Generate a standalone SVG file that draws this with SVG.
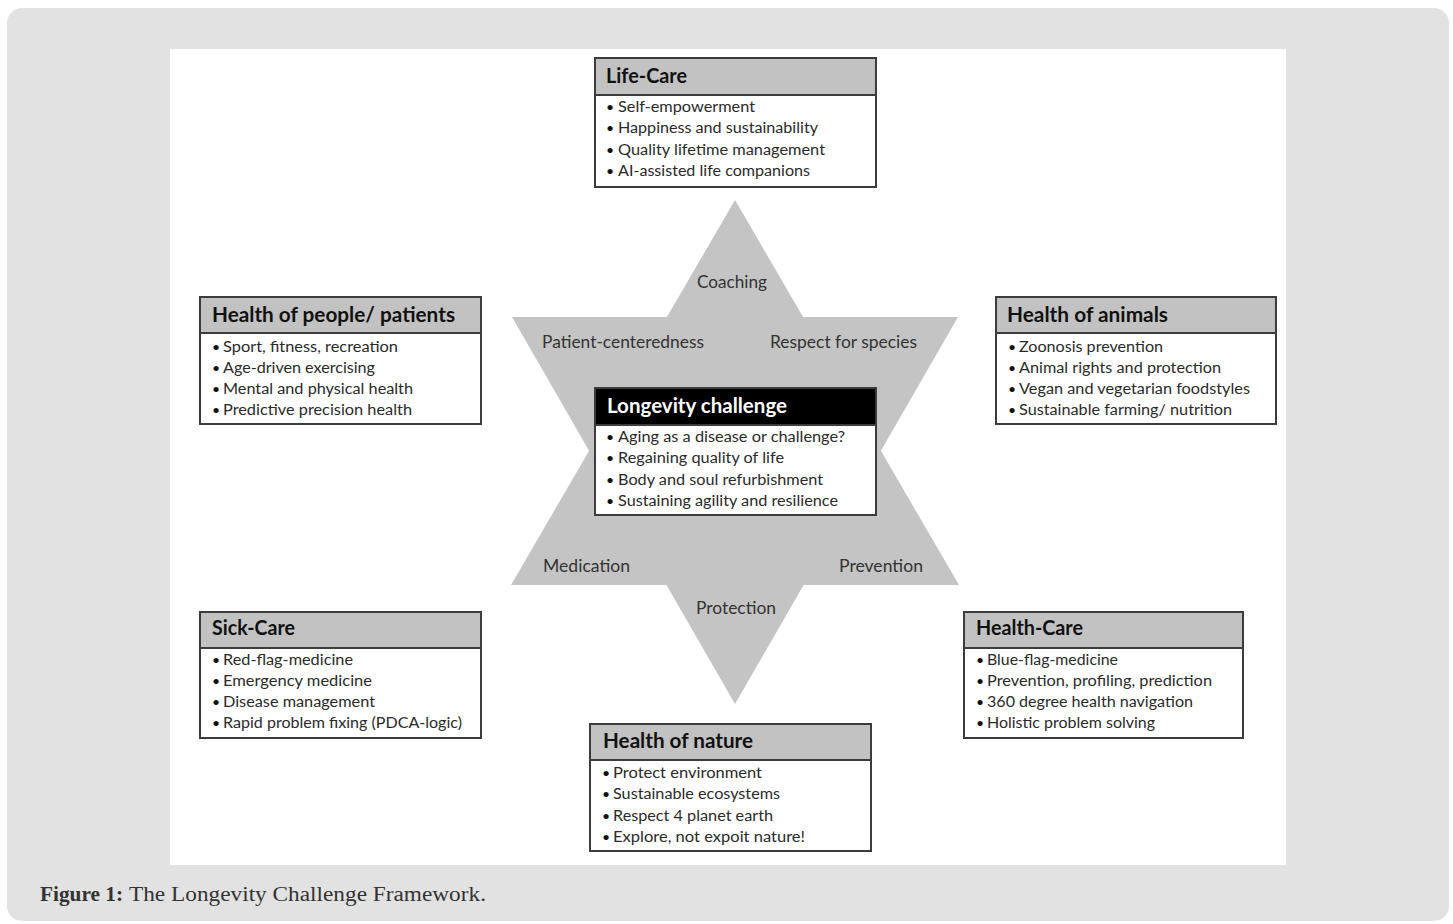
<svg xmlns="http://www.w3.org/2000/svg" width="1453" height="924" viewBox="0 0 1453 924">
<style>
.box{fill:#ffffff;stroke:#3c3c3c;stroke-width:2}
.hdr{fill:#c2c2c2;stroke:#3c3c3c;stroke-width:2}
.hdrk{fill:#000000;stroke:#3c3c3c;stroke-width:2}
.t{font-family:Lato,"Open Sans","Liberation Sans",sans-serif;font-weight:bold;font-size:20px;fill:#111111}
.tw{font-family:Lato,"Open Sans","Liberation Sans",sans-serif;font-weight:bold;font-size:20px;fill:#ffffff}
.i{font-family:Lato,"Open Sans","Liberation Sans",sans-serif;font-size:15.5px;fill:#2a2a2a}
.b{font-family:Lato,"Open Sans","Liberation Sans",sans-serif;font-size:14px;fill:#111111}
.s{font-family:Lato,"Open Sans","Liberation Sans",sans-serif;font-size:17px;fill:#333333}
.cap{font-family:"Liberation Serif",serif;font-size:20px;fill:#333333}
</style>
<rect x="7" y="8" width="1442" height="913" rx="15" fill="#e2e2e2"/>
<rect x="170" y="49" width="1116" height="816" fill="#ffffff"/>

<g id="star">
<polygon points="735,200 959,585 511,585" fill="#c4c4c4"/>
<polygon points="512,317 958,317 735,704" fill="#c4c4c4"/>
<text class="s" x="697" y="288" textLength="70" lengthAdjust="spacingAndGlyphs">Coaching</text>
<text class="s" x="542" y="348" textLength="162" lengthAdjust="spacingAndGlyphs">Patient-centeredness</text>
<text class="s" x="770" y="348" textLength="147" lengthAdjust="spacingAndGlyphs">Respect for species</text>
<text class="s" x="543" y="572" textLength="87" lengthAdjust="spacingAndGlyphs">Medication</text>
<text class="s" x="839" y="572" textLength="84" lengthAdjust="spacingAndGlyphs">Prevention</text>
<text class="s" x="696" y="614" textLength="80" lengthAdjust="spacingAndGlyphs">Protection</text>
</g>

<g id="life-care">
<rect class="box" x="595" y="58" width="281" height="129"/>
<rect class="hdr" x="595" y="58" width="281" height="37"/>
<text class="t" x="606" y="83" textLength="81" lengthAdjust="spacingAndGlyphs">Life-Care</text>
<text class="b" x="606" y="112">•</text><text class="i" x="618" y="112" textLength="137" lengthAdjust="spacingAndGlyphs">Self-empowerment</text>
<text class="b" x="606" y="133">•</text><text class="i" x="618" y="133" textLength="200" lengthAdjust="spacingAndGlyphs">Happiness and sustainability</text>
<text class="b" x="606" y="155">•</text><text class="i" x="618" y="155" textLength="207" lengthAdjust="spacingAndGlyphs">Quality lifetime management</text>
<text class="b" x="606" y="176">•</text><text class="i" x="618" y="176" textLength="192" lengthAdjust="spacingAndGlyphs">AI-assisted life companions</text>
</g>

<g id="longevity-challenge">
<rect class="box" x="595" y="388" width="281" height="127"/>
<rect class="hdrk" x="595" y="388" width="281" height="37"/>
<text class="tw" x="607" y="413" textLength="180" lengthAdjust="spacingAndGlyphs">Longevity challenge</text>
<text class="b" x="606" y="442">•</text><text class="i" x="618" y="442" textLength="227" lengthAdjust="spacingAndGlyphs">Aging as a disease or challenge?</text>
<text class="b" x="606" y="463">•</text><text class="i" x="618" y="463" textLength="166" lengthAdjust="spacingAndGlyphs">Regaining quality of life</text>
<text class="b" x="606" y="485">•</text><text class="i" x="618" y="485" textLength="205" lengthAdjust="spacingAndGlyphs">Body and soul refurbishment</text>
<text class="b" x="606" y="506">•</text><text class="i" x="618" y="506" textLength="220" lengthAdjust="spacingAndGlyphs">Sustaining agility and resilience</text>
</g>

<g id="health-of-people">
<rect class="box" x="200" y="297" width="281" height="127"/>
<rect class="hdr" x="200" y="297" width="281" height="36"/>
<text class="t" x="212" y="322" textLength="243" lengthAdjust="spacingAndGlyphs">Health of people/ patients</text>
<text class="b" x="212" y="352">•</text><text class="i" x="223" y="352" textLength="175" lengthAdjust="spacingAndGlyphs">Sport, fitness, recreation</text>
<text class="b" x="212" y="373">•</text><text class="i" x="223" y="373" textLength="152" lengthAdjust="spacingAndGlyphs">Age-driven exercising</text>
<text class="b" x="212" y="394">•</text><text class="i" x="223" y="394" textLength="190" lengthAdjust="spacingAndGlyphs">Mental and physical health</text>
<text class="b" x="212" y="415">•</text><text class="i" x="223" y="415" textLength="189" lengthAdjust="spacingAndGlyphs">Predictive precision health</text>
</g>

<g id="health-of-animals">
<rect class="box" x="996" y="297" width="280" height="127"/>
<rect class="hdr" x="996" y="297" width="280" height="36"/>
<text class="t" x="1007" y="322" textLength="161" lengthAdjust="spacingAndGlyphs">Health of animals</text>
<text class="b" x="1008" y="352">•</text><text class="i" x="1019" y="352" textLength="144" lengthAdjust="spacingAndGlyphs">Zoonosis prevention</text>
<text class="b" x="1008" y="373">•</text><text class="i" x="1019" y="373" textLength="202" lengthAdjust="spacingAndGlyphs">Animal rights and protection</text>
<text class="b" x="1008" y="394">•</text><text class="i" x="1019" y="394" textLength="231" lengthAdjust="spacingAndGlyphs">Vegan and vegetarian foodstyles</text>
<text class="b" x="1008" y="415">•</text><text class="i" x="1019" y="415" textLength="213" lengthAdjust="spacingAndGlyphs">Sustainable farming/ nutrition</text>
</g>

<g id="sick-care">
<rect class="box" x="200" y="612" width="281" height="126"/>
<rect class="hdr" x="200" y="612" width="281" height="36"/>
<text class="t" x="212" y="635" textLength="83" lengthAdjust="spacingAndGlyphs">Sick-Care</text>
<text class="b" x="212" y="665">•</text><text class="i" x="223" y="665" textLength="130" lengthAdjust="spacingAndGlyphs">Red-flag-medicine</text>
<text class="b" x="212" y="686">•</text><text class="i" x="223" y="686" textLength="149" lengthAdjust="spacingAndGlyphs">Emergency medicine</text>
<text class="b" x="212" y="707">•</text><text class="i" x="223" y="707" textLength="152" lengthAdjust="spacingAndGlyphs">Disease management</text>
<text class="b" x="212" y="728">•</text><text class="i" x="223" y="728" textLength="239" lengthAdjust="spacingAndGlyphs">Rapid problem fixing (PDCA-logic)</text>
</g>

<g id="health-care">
<rect class="box" x="964" y="612" width="279" height="126"/>
<rect class="hdr" x="964" y="612" width="279" height="36"/>
<text class="t" x="976" y="635" textLength="107" lengthAdjust="spacingAndGlyphs">Health-Care</text>
<text class="b" x="976" y="665">•</text><text class="i" x="987" y="665" textLength="131" lengthAdjust="spacingAndGlyphs">Blue-flag-medicine</text>
<text class="b" x="976" y="686">•</text><text class="i" x="987" y="686" textLength="225" lengthAdjust="spacingAndGlyphs">Prevention, profiling, prediction</text>
<text class="b" x="976" y="707">•</text><text class="i" x="987" y="707" textLength="206" lengthAdjust="spacingAndGlyphs">360 degree health navigation</text>
<text class="b" x="976" y="728">•</text><text class="i" x="987" y="728" textLength="168" lengthAdjust="spacingAndGlyphs">Holistic problem solving</text>
</g>

<g id="health-of-nature">
<rect class="box" x="590" y="724" width="281" height="127"/>
<rect class="hdr" x="590" y="724" width="281" height="36"/>
<text class="t" x="603" y="748" textLength="150" lengthAdjust="spacingAndGlyphs">Health of nature</text>
<text class="b" x="602" y="778">•</text><text class="i" x="613" y="778" textLength="149" lengthAdjust="spacingAndGlyphs">Protect environment</text>
<text class="b" x="602" y="799">•</text><text class="i" x="613" y="799" textLength="167" lengthAdjust="spacingAndGlyphs">Sustainable ecosystems</text>
<text class="b" x="602" y="821">•</text><text class="i" x="613" y="821" textLength="160" lengthAdjust="spacingAndGlyphs">Respect 4 planet earth</text>
<text class="b" x="602" y="842">•</text><text class="i" x="613" y="842" textLength="192" lengthAdjust="spacingAndGlyphs">Explore, not expoit nature!</text>
</g>

<g id="caption">
<text class="cap" x="40" y="901" font-weight="bold" fill="#222222" textLength="83" lengthAdjust="spacingAndGlyphs">Figure 1:</text>
<text class="cap" x="129" y="901" textLength="357" lengthAdjust="spacingAndGlyphs">The Longevity Challenge Framework.</text>
</g>
</svg>
